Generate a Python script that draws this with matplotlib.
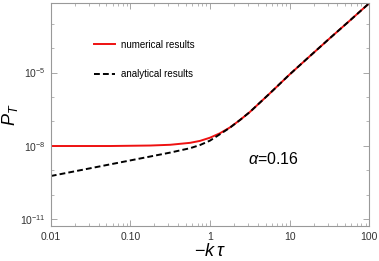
import numpy as np
import matplotlib
matplotlib.use("Agg")
import matplotlib.pyplot as plt
from matplotlib.ticker import LogLocator, FixedLocator, FixedFormatter, NullFormatter

# values (log10 of P_T at each -k tau)
k_tau = [0.01, 0.0178, 0.0316, 0.0562, 0.1, 0.178, 0.316, 0.562, 0.75, 1.0, 1.33,
         1.78, 2.37, 3.16, 5.62, 10.0, 17.8, 31.6, 56.2, 100.0]
log_p_numerical = [-8.01, -8.01, -8.01, -8.01, -8.0, -7.99, -7.96, -7.88, -7.80, -7.67, -7.49,
                   -7.25, -6.95, -6.62, -5.86, -5.08, -4.34, -3.61, -2.89, -2.16]
log_p_analytical = [-9.24, -9.08, -8.92, -8.76, -8.60, -8.44, -8.28, -8.10, -7.97, -7.79, -7.53,
                    -7.26, -6.95, -6.62, -5.86, -5.08, -4.34, -3.61, -2.89, -2.16]

x_ticks = [0.01, 0.1, 1, 10, 100]
x_tick_labels = ["0.01", "0.10", "1", "10", "100"]
y_ticks = [1e-11, 1e-8, 1e-5]
y_tick_labels = [r"$10^{-11}$", r"$10^{-8}$", r"$10^{-5}$"]

plt.rcParams["font.family"] = ["Liberation Sans", "DejaVu Sans"]
plt.rcParams["mathtext.fontset"] = "custom"
plt.rcParams["mathtext.rm"] = "Liberation Sans"
plt.rcParams["mathtext.it"] = "Liberation Sans:italic"

fig = plt.figure(figsize=(3.79, 2.61), dpi=100)
ax = fig.add_axes([0.134, 0.134, 0.840, 0.853])

p_num = 10 ** np.array(log_p_numerical)
p_ana = 10 ** np.array(log_p_analytical)

ax.plot(k_tau, p_num, color="#ee1111", lw=1.4, label="numerical results")
ax.plot(k_tau, p_ana, color="black", lw=1.4, dashes=(3, 1.6), label="analytical results")

ax.set_xscale("log")
ax.set_yscale("log")
ax.set_xlim(0.01, 100)
ax.set_ylim(10 ** -11.29, 10 ** -2.164)

ax.xaxis.set_major_locator(FixedLocator(x_ticks))
ax.xaxis.set_major_formatter(FixedFormatter(x_tick_labels))
ax.xaxis.set_minor_locator(LogLocator(base=10, subs=np.arange(2, 10)))
ax.xaxis.set_minor_formatter(NullFormatter())
ax.yaxis.set_major_locator(FixedLocator(y_ticks))
ax.yaxis.set_major_formatter(FixedFormatter(y_tick_labels))
ax.yaxis.set_minor_locator(LogLocator(base=10, subs=[1.0], numticks=20))
ax.yaxis.set_minor_formatter(NullFormatter())

gray = "#999999"
for s in ax.spines.values():
    s.set_color(gray)
    s.set_linewidth(0.8)
ax.tick_params(which="both", direction="in", top=True, right=True, color=gray,
               labelsize=7.5, labelcolor="#333333")
ax.tick_params(which="major", length=4, width=0.6)
ax.tick_params(which="minor", length=2, width=0.5)
ax.tick_params(axis="x", pad=4)

ax.set_xlabel(r"$-k\,\tau$", fontsize=13, labelpad=1)
ax.set_ylabel(r"$P_T$", fontsize=13)
ax.yaxis.set_label_coords(-0.097, 0.5)

ax.legend(loc="upper left", bbox_to_anchor=(0.109, 0.877), frameon=False, fontsize=7,
          handlelength=2.1, labelspacing=2.0, handletextpad=0.7)
ax.text(0.62, 0.30, r"$\alpha$=0.16", transform=ax.transAxes, fontsize=11.5, va="center")

fig.savefig("out.png", dpi=100)
